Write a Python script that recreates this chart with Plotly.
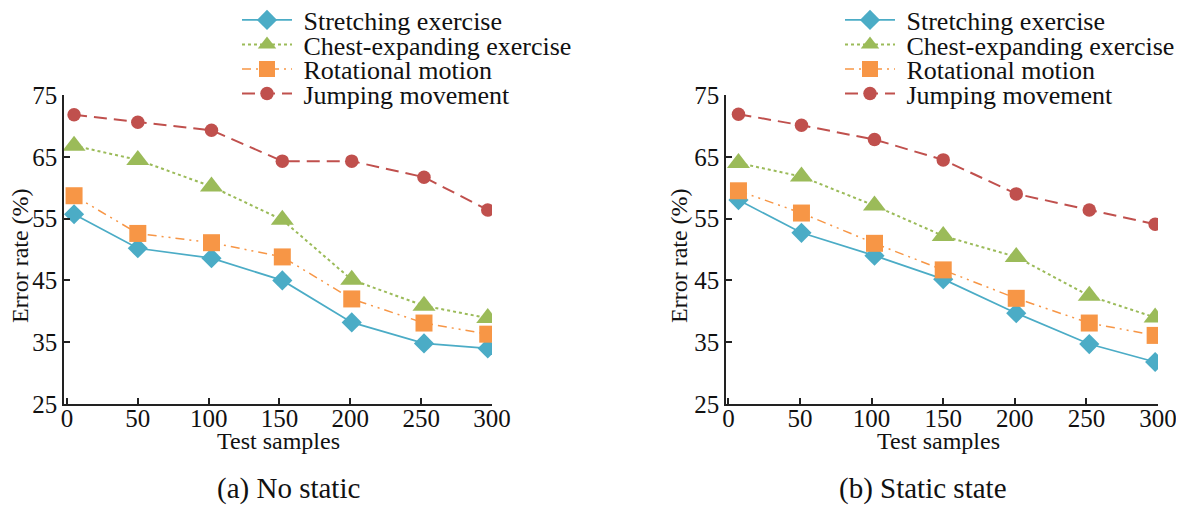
import plotly.graph_objects as go

# The page body has an 8px margin, so the figure is drawn 8px smaller and
# every reference pixel position below is shifted by OFF.
OFF = 8
W, H = 1184 - OFF, 505 - OFF

series_names = ["Stretching exercise", "Chest-expanding exercise", "Rotational motion", "Jumping movement"]

# Panel (a) No static
x_a = [5, 50, 102, 152, 201, 252, 297]
a_stretch = [55.7, 50.2, 48.6, 45.0, 38.2, 34.8, 34.0]
a_chest = [66.8, 64.5, 60.2, 54.8, 45.1, 40.9, 38.9]
a_rot = [58.7, 52.6, 51.1, 48.8, 42.0, 38.1, 36.3]
a_jump = [71.8, 70.6, 69.3, 64.3, 64.3, 61.7, 56.4]

# Panel (b) Static state
x_b = [7, 51, 102, 150, 201, 252, 298]
b_stretch = [58.0, 52.7, 49.0, 45.2, 39.7, 34.7, 31.8]
b_chest = [64.0, 61.8, 57.1, 52.2, 48.8, 42.5, 39.0]
b_rot = [59.5, 55.9, 51.0, 46.7, 42.1, 38.1, 36.1]
b_jump = [71.9, 70.1, 67.8, 64.5, 59.0, 56.4, 54.1]

x_ticks = [0, 50, 100, 150, 200, 250, 300]
y_ticks = [25, 35, 45, 55, 65, 75]

colors = ["#4BACC6", "#9BBB59", "#F79646", "#C0504D"]
dashes = ["solid", "3px,3px", "9px,5px,2px,5px,2px,5px", "13px,7px"]
symbols = ["diamond", "triangle-up", "square", "circle"]
msizes = [15.5, 20, 17, 13.5]
lwidths = [1.7, 2, 1.5, 2]

FONT = "Liberation Serif"


def px(xr):
    return (xr - OFF) / W


def py(yr):
    return 1 - (yr - OFF) / H


fig = go.Figure()

panels = [
    (x_a, [a_stretch, a_chest, a_rot, a_jump], "x", "y", 0),
    (x_b, [b_stretch, b_chest, b_rot, b_jump], "x2", "y2", 4),
]
for xs, ys_list, xa, ya, loff in panels:
    for i, ys in enumerate(ys_list):
        lg = "legend" if loff + i == 0 else f"legend{loff + i + 1}"
        fig.add_trace(go.Scatter(
            x=xs, y=ys, name="\u00a0" + series_names[i], mode="lines+markers",
            line=dict(color=colors[i], width=lwidths[i], dash=dashes[i]),
            marker=dict(symbol=symbols[i], size=msizes[i], color=colors[i], line=dict(width=0)),
            xaxis=xa, yaxis=ya, legend=lg, showlegend=True,
        ))

axis_common = dict(
    showline=True, linecolor="#222", linewidth=1.5,
    ticks="inside", ticklen=6, tickwidth=1.5, tickcolor="#222",
    showgrid=False, zeroline=False, automargin=False,
    tickfont=dict(family=FONT, size=25, color="#111"),
)

y0, y1 = py(404), py(95)
TFONT = dict(family=FONT, size=24, color="#111")

layout = dict(
    width=W, height=H, margin=dict(l=0, r=0, t=0, b=0, autoexpand=False),
    paper_bgcolor="white", plot_bgcolor="white",
    font=dict(family=FONT, size=22, color="#111"),
    xaxis=dict(domain=[px(64), px(492)], range=[-2.1, 300], tickvals=x_ticks, anchor="y",
               ticklabelstandoff=-9, **axis_common),
    yaxis=dict(domain=[y0, y1], range=[25, 75], tickvals=y_ticks, anchor="x", **axis_common),
    xaxis2=dict(domain=[px(726), px(1158)], range=[-1.7, 300], tickvals=x_ticks, anchor="y2",
                ticklabelstandoff=-9, **axis_common),
    yaxis2=dict(domain=[y0, y1], range=[25, 75], tickvals=y_ticks, anchor="x2", **axis_common),
)

# one legend per entry so the rows can sit as tightly as in the reference
row_y = [20, 44.5, 69, 93.5]
for p, lx in enumerate([237, 840]):
    for i in range(4):
        k = p * 4 + i
        key = "legend" if k == 0 else f"legend{k + 1}"
        layout[key] = dict(
            x=px(lx), y=py(row_y[i]), xanchor="left", yanchor="middle",
            xref="container", yref="container", bgcolor="rgba(0,0,0,0)",
            font=dict(family=FONT, size=26, color="#111"), itemwidth=50,
        )

fig.update_layout(**layout)

# axis titles
for cx in [20, 679]:
    fig.add_annotation(text="Error rate (%)", x=px(cx), y=py(256), xref="paper", yref="paper",
                       textangle=-90, showarrow=False, font=TFONT, xanchor="center", yanchor="middle")
for cx in [278, 938]:
    fig.add_annotation(text="Test samples", x=px(cx), y=py(441), xref="paper", yref="paper",
                       showarrow=False, font=TFONT, xanchor="center", yanchor="middle")

captions = [("(a) No static", 288), ("(b) Static state", 923)]
for text, cx in captions:
    fig.add_annotation(text=text, x=px(cx), y=py(488), xref="paper", yref="paper",
                       showarrow=False, font=dict(family=FONT, size=29, color="#111"),
                       xanchor="center", yanchor="middle")

fig.write_html("out.html")
